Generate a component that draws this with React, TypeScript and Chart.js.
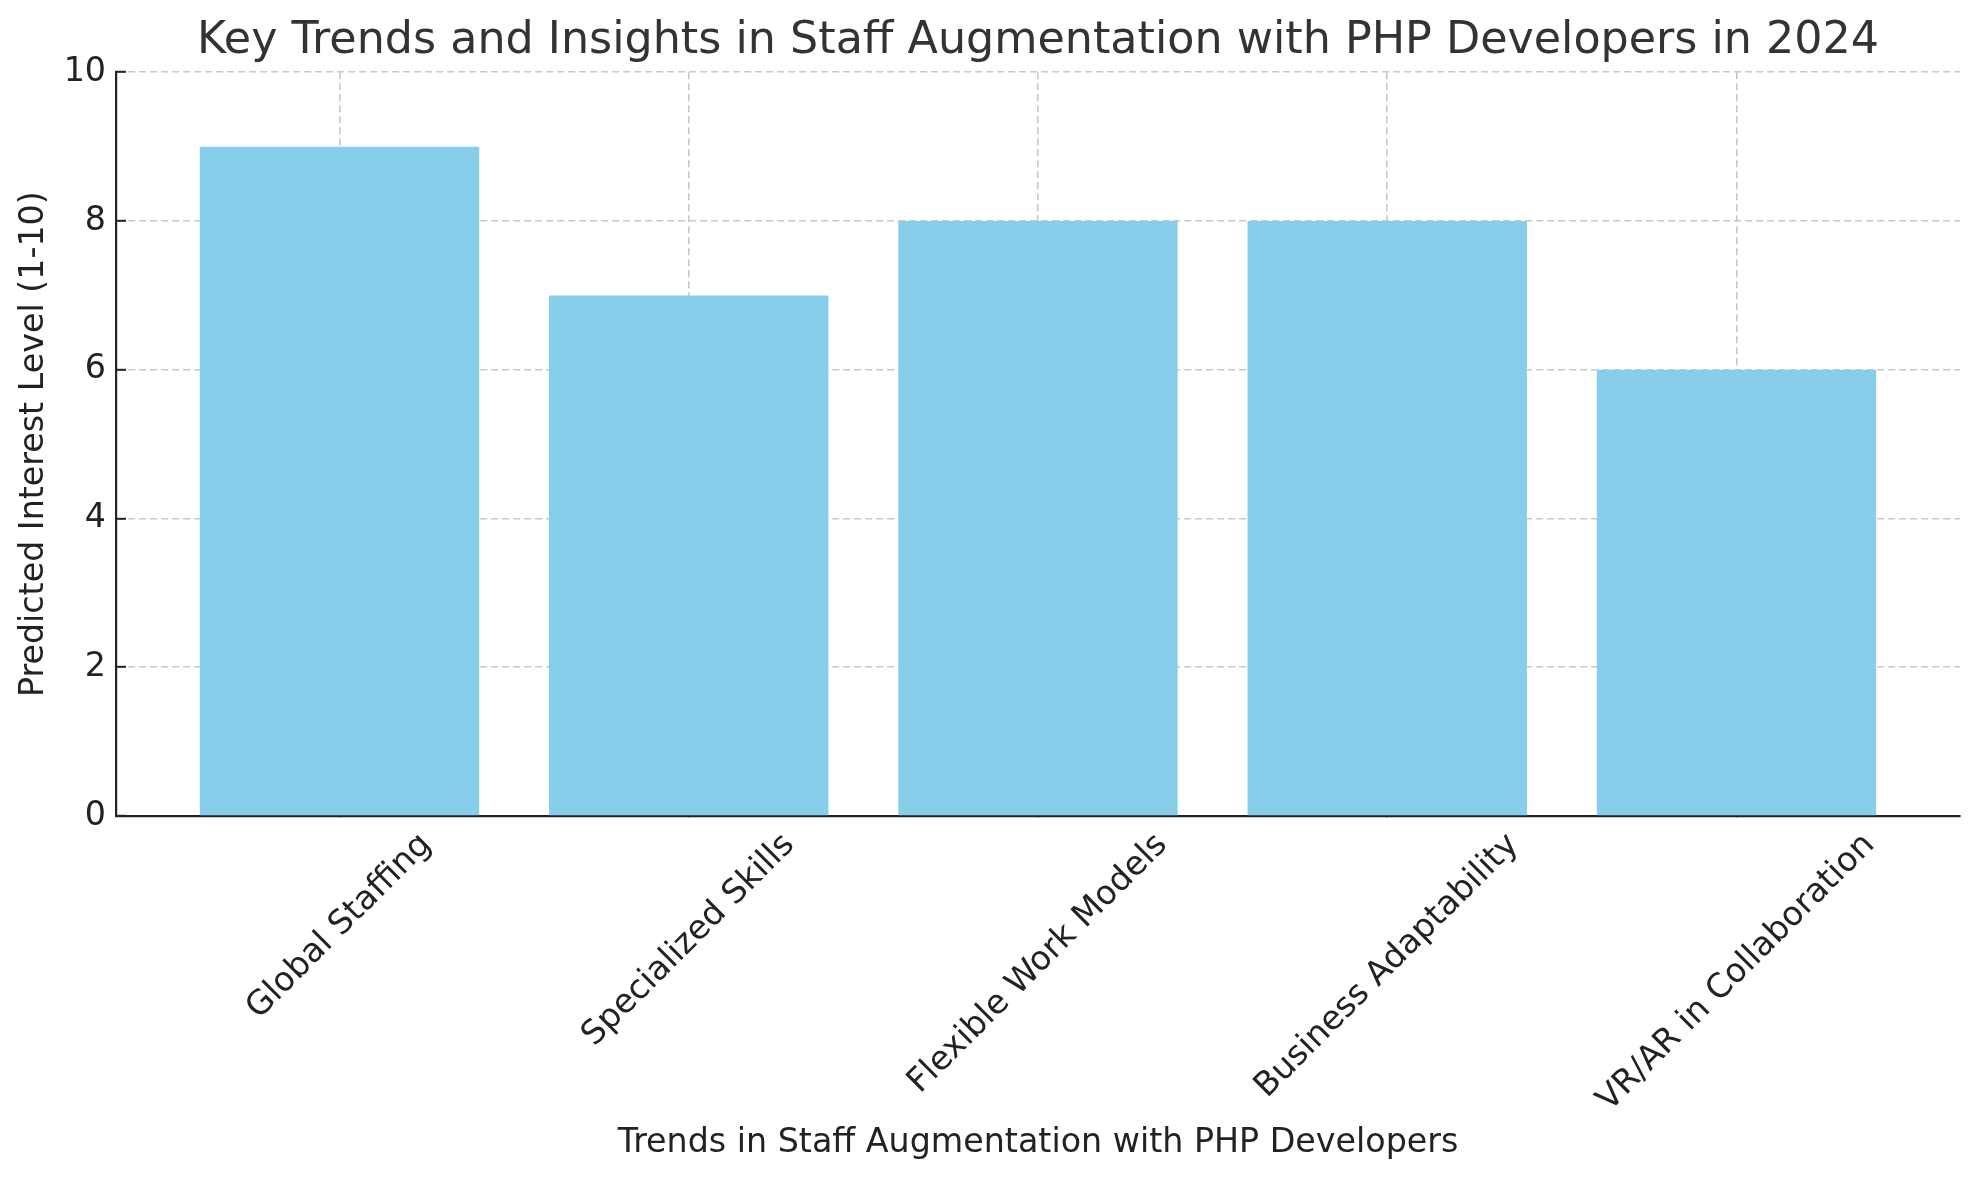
import React, { useEffect, useRef } from "react";
import { Chart, registerables } from "chart.js";

Chart.register(...registerables);

const categories = [
  "Global Staffing",
  "Specialized Skills",
  "Flexible Work Models",
  "Business Adaptability",
  "VR/AR in Collaboration",
];
const interestLevels = [9, 7, 8, 8, 6];
const yTickValues = [0, 2, 4, 6, 8, 10];
const titleText =
  "Key Trends and Insights in Staff Augmentation with PHP Developers in 2024";
const xAxisTitle = "Trends in Staff Augmentation with PHP Developers";
const yAxisTitle = "Predicted Interest Level (1-10)";

const W = 1979;
const H = 1180;
const FONT = "'DejaVu Sans', sans-serif";
const LABEL_SIZE = 33.3;
const TITLE_SIZE = 44.4;

export default function App() {
  const ref = useRef<HTMLCanvasElement>(null);

  useEffect(() => {
    if (!ref.current) return;

    const rotatedLabels = {
      id: "rotatedLabels",
      afterDraw(chart: any) {
        const xs = chart.scales.x;
        const ctx = chart.ctx;
        ctx.save();
        ctx.font = `${LABEL_SIZE}px ${FONT}`;
        ctx.fillStyle = "#222222";
        ctx.textAlign = "center";
        ctx.textBaseline = "middle";
        const lineH = LABEL_SIZE * 1.17;
        categories.forEach((c, i) => {
          const w = ctx.measureText(c).width;
          const half = ((w + lineH) * Math.SQRT1_2) / 2;
          const px = xs.getPixelForValue(i);
          const py = xs.top + 10 + half;
          ctx.save();
          ctx.translate(px, py);
          ctx.rotate(-Math.PI / 4);
          ctx.fillText(c, 0, 0);
          ctx.restore();
        });
        ctx.restore();
      },
    };

    const chart = new Chart(ref.current, {
      type: "bar",
      data: {
        datasets: [
          {
            data: interestLevels.map((v, i) => ({ x: i, y: v })),
            backgroundColor: "#87CEEB",
            borderWidth: 0,
            categoryPercentage: 1,
            barPercentage: 0.8,
          },
        ],
      },
      options: {
        responsive: false,
        animation: false,
        events: [],
        layout: { padding: { top: 0, right: 19, bottom: 0, left: 0 } },
        plugins: {
          legend: { display: false },
          tooltip: { enabled: false },
          title: {
            display: true,
            text: titleText,
            fullSize: false,
            color: "#333333",
            font: { family: FONT, size: TITLE_SIZE, weight: "normal" },
            padding: { top: 15, bottom: 4 },
          },
        },
        scales: {
          x: {
            type: "linear",
            min: -0.64,
            max: 4.64,
            offset: false,
            z: 1,
            afterBuildTicks: (scale: any) => {
              scale.ticks = categories.map((_, i) => ({ value: i }));
            },
            afterFit: (scale: any) => {
              scale.height = H - 816;
            },
            ticks: { display: false },
            grid: {
              offset: false,
              color: "#c8c8c8",
              lineWidth: 1.6,
              drawTicks: true,
              tickLength: -10,
              tickColor: "#222222",
              tickWidth: 2,
            },
            border: { display: true, color: "#222222", width: 2.2, dash: [7, 4] },
            title: {
              display: true,
              text: xAxisTitle,
              color: "#222222",
              font: { family: FONT, size: LABEL_SIZE },
              padding: { top: 0, bottom: 17 },
            },
          },
          y: {
            type: "linear",
            min: 0,
            max: 10,
            z: 1,
            afterBuildTicks: (scale: any) => {
              scale.ticks = yTickValues.map((v) => ({ value: v }));
            },
            afterFit: (scale: any) => {
              scale.width = 116;
            },
            ticks: {
              color: "#222222",
              font: { family: FONT, size: LABEL_SIZE },
              padding: 20,
            },
            grid: {
              color: "#c8c8c8",
              lineWidth: 1.6,
              drawTicks: true,
              tickLength: -10,
              tickColor: "#222222",
              tickWidth: 2,
            },
            border: { display: true, color: "#222222", width: 2.2, dash: [7, 4] },
            title: {
              display: true,
              text: yAxisTitle,
              color: "#222222",
              font: { family: FONT, size: LABEL_SIZE },
              padding: { top: 14, bottom: 0 },
            },
          },
        },
      },
      plugins: [rotatedLabels],
    } as any);

    return () => chart.destroy();
  }, []);

  return (
    <div
      style={{
        position: "fixed",
        left: 0,
        top: 0,
        width: W,
        height: H,
        background: "#ffffff",
      }}
    >
      <canvas ref={ref} width={W} height={H} style={{ width: W, height: H }} />
    </div>
  );
}
